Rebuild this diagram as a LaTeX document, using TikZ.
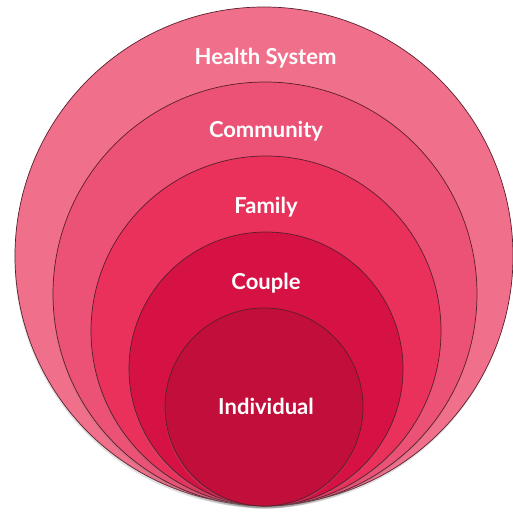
\documentclass[tikz,border=0pt]{standalone}
\usepackage{fontspec}
\setmainfont{Lato}
\usetikzlibrary{shadows}
\definecolor{cHealth}{RGB}{240,112,140}
\definecolor{cCommunity}{RGB}{236,82,118}
\definecolor{cFamily}{RGB}{233,49,91}
\definecolor{cCouple}{RGB}{214,17,68}
\definecolor{cIndividual}{RGB}{194,14,58}
\definecolor{cEdge}{RGB}{90,30,45}
\tikzset{
  ring/.style={circle, draw=cEdge, line width=0.7pt, inner sep=0pt, fill=#1,
    drop shadow={opacity=0.25, shadow xshift=-0.5pt, shadow yshift=-2.5pt}},
  lbl/.style={text=white, font=\bfseries\fontsize{22}{24}\selectfont, anchor=base, inner sep=0pt}
}
\begin{document}
\begin{tikzpicture}[x=1pt,y=-1pt]
\useasboundingbox (0,0) rectangle (513,514);
\node[ring=cHealth, minimum size=498pt] (health) at (264,256) {};
\node[ring=cCommunity, minimum size=424pt] (community) at (265,294) {};
\node[ring=cFamily, minimum size=350pt] (family) at (266,331) {};
\node[ring=cCouple, minimum size=274pt] (couple) at (266,369) {};
\node[ring=cIndividual, minimum size=198pt] (individual) at (264,407) {};
\node[lbl] (thealth) at (265.5,64) {Health System};
\node[lbl] (tcommunity) at (266,137.5) {Community};
\node[lbl] (tfamily) at (266,213) {Family};
\node[lbl] (tcouple) at (266,289) {Couple};
\node[lbl] (tindividual) at (266,414) {Individual};
\end{tikzpicture}
\end{document}
